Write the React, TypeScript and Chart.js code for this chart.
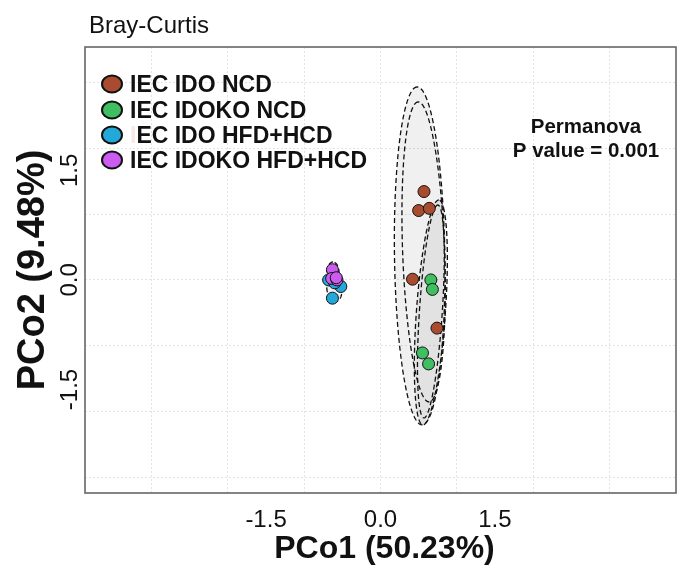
import React, { useEffect, useRef } from "react";
import { Chart, registerables } from "chart.js";

Chart.register(...registerables);

const FONT = '"Liberation Sans", Arial, Helvetica, sans-serif';

// ---- Data ----
const groupNames = ["IEC IDO NCD", "IEC IDOKO NCD", "IEC IDO HFD+HCD", "IEC IDOKO HFD+HCD"];
const groupColors = ["#A94B2F", "#3FBF62", "#22A9DA", "#CC5BEF"];

const idoNcdX = [0.57, 0.50, 0.64, 0.42, 0.74];
const idoNcdY = [1.21, 0.95, 0.98, 0.01, -0.66];
const idokoNcdX = [0.66, 0.68, 0.55, 0.63];
const idokoNcdY = [0.0, -0.13, -1.0, -1.15];
const idoHfdX = [-0.68, -0.52, -0.63, -0.60];
const idoHfdY = [0.0, -0.09, -0.25, -0.04];
const idokoHfdX = [-0.63, -0.64, -0.57, -0.58];
const idokoHfdY = [0.14, 0.02, 0.0, 0.03];

// confidence ellipses (data units)
const ellipseCx = [0.513, 0.565, 0.66, 0.66, -0.623, -0.604];
const ellipseCy = [0.329, 0.384, -0.445, -0.432, 0.096, -0.11];
const ellipseA = [2.315, 2.056, 1.544, 1.461, 0.15, 0.19];
const ellipseB = [0.33, 0.275, 0.19, 0.15, 0.08, 0.10];
const ellipseAngle = [90.8, 92.0, 86.1, 86.4, 90, 95];
const ellipseFilled = [true, false, true, false, true, true];

const xGridValues = [-3, -2, -1, 0, 1, 2, 3];
const yGridValues = [-2.7, -1.8, -0.9, 0, 0.9, 1.8, 2.7];
const xTickValues = [-1.5, 0, 1.5];
const xTickLabels = ["-1.5", "0.0", "1.5"];
const yTickValues = [-1.5, 0, 1.5];
const yTickLabels = ["-1.5", "0.0", "1.5"];

const titleText = "Bray-Curtis";
const xTitle = "PCo1 (50.23%)";
const yTitle = "PCo2 (9.48%)";
const statLines = ["Permanova", "P value = 0.001"];

export default function App() {
  const ref = useRef<HTMLCanvasElement>(null);

  useEffect(() => {
    const canvas = ref.current;
    if (!canvas) return;
    const groupX = [idoNcdX, idokoNcdX, idoHfdX, idokoHfdX];
    const groupY = [idoNcdY, idokoNcdY, idoHfdY, idokoHfdY];

    const datasets = groupNames.map((name, g) => ({
      label: name,
      data: groupX[g].map((x, i) => ({ x, y: groupY[g][i] })),
      backgroundColor: groupColors[g],
      borderColor: "#111",
      borderWidth: 1,
      pointRadius: 6,
      pointHoverRadius: 6,
      order: -g,
    }));

    const ellipsePlugin = {
      id: "ellipses",
      beforeDatasetsDraw(chart: any) {
        const ctx = chart.ctx;
        const xs = chart.scales.x;
        const ys = chart.scales.y;
        ctx.save();
        for (let e = 0; e < ellipseCx.length; e++) {
          const th = (ellipseAngle[e] * Math.PI) / 180;
          ctx.beginPath();
          const n = 120;
          for (let k = 0; k <= n; k++) {
            const t = (k / n) * Math.PI * 2;
            const u = ellipseA[e] * Math.cos(t);
            const v = ellipseB[e] * Math.sin(t);
            const dx = ellipseCx[e] + u * Math.cos(th) - v * Math.sin(th);
            const dy = ellipseCy[e] + u * Math.sin(th) + v * Math.cos(th);
            const px = xs.getPixelForValue(dx);
            const py = ys.getPixelForValue(dy);
            if (k === 0) ctx.moveTo(px, py);
            else ctx.lineTo(px, py);
          }
          ctx.closePath();
          if (ellipseFilled[e]) {
            ctx.fillStyle = "rgba(0,0,0,0.06)";
            ctx.fill();
          }
          ctx.setLineDash([5, 3]);
          ctx.lineWidth = 1.3;
          ctx.strokeStyle = "#111";
          ctx.stroke();
        }
        ctx.restore();
      },
    };

    const decorPlugin = {
      id: "decor",
      afterDraw(chart: any) {
        const ctx = chart.ctx;
        const a = chart.chartArea;
        const xs = chart.scales.x;
        const ys = chart.scales.y;
        ctx.save();
        // box
        ctx.setLineDash([]);
        ctx.strokeStyle = "#666";
        ctx.lineWidth = 1.6;
        ctx.strokeRect(a.left, a.top, a.right - a.left, a.bottom - a.top);

        ctx.fillStyle = "#111";
        // x tick labels
        ctx.font = `24px ${FONT}`;
        ctx.textAlign = "center";
        ctx.textBaseline = "alphabetic";
        xTickValues.forEach((v, i) => {
          ctx.fillText(xTickLabels[i], xs.getPixelForValue(v), 527);
        });
        // y tick labels (rotated)
        yTickValues.forEach((v, i) => {
          ctx.save();
          ctx.translate(77, ys.getPixelForValue(v));
          ctx.rotate(-Math.PI / 2);
          ctx.fillText(yTickLabels[i], 0, 0);
          ctx.restore();
        });
        // axis titles
        ctx.font = `bold 32px ${FONT}`;
        ctx.fillText(xTitle, (a.left + a.right) / 2 + 4, 558);
        ctx.save();
        ctx.font = `bold 38px ${FONT}`;
        ctx.translate(44, (a.top + a.bottom) / 2);
        ctx.rotate(-Math.PI / 2);
        ctx.fillText(yTitle, 0, 0);
        ctx.restore();

        // title
        ctx.font = `24px ${FONT}`;
        ctx.textAlign = "left";
        ctx.fillText(titleText, 89, 33);

        // permanova
        ctx.font = `bold 20.5px ${FONT}`;
        ctx.textAlign = "center";
        ctx.fillText(statLines[0], 586, 133);
        ctx.fillText(statLines[1], 586, 157);

        // legend
        const rows = [92, 118, 143, 168];
        ctx.font = `bold 23px ${FONT}`;
        ctx.textAlign = "left";
        groupNames.forEach((name, g) => {
          const by = rows[g];
          ctx.beginPath();
          ctx.ellipse(112, by - 8, 10, 8.5, 0, 0, Math.PI * 2);
          ctx.fillStyle = groupColors[g];
          ctx.fill();
          ctx.lineWidth = 2;
          ctx.strokeStyle = "#111";
          ctx.stroke();
          ctx.fillStyle = "#111";
          if (g === 2) {
            ctx.fillStyle = "#f6ebe4";
            ctx.fillText(name.slice(0, 1), 130, by);
            const w = ctx.measureText(name.slice(0, 1)).width;
            ctx.fillStyle = "#111";
            ctx.fillText(name.slice(1), 130 + w, by);
          } else {
            ctx.fillText(name, 130, by);
          }
        });
        ctx.restore();
      },
    };

    const chart = new Chart(canvas, {
      type: "scatter",
      data: { datasets } as any,
      options: {
        animation: false,
        responsive: false,
        events: [],
        layout: { padding: { left: 85, top: 47, right: 8, bottom: 83 } },
        plugins: {
          legend: { display: false },
          tooltip: { enabled: false },
          title: { display: false },
        },
        scales: {
          x: {
            type: "linear",
            min: -3.873,
            max: 3.873,
            afterBuildTicks: (s: any) => {
              s.ticks = xGridValues.map((v) => ({ value: v }));
            },
            ticks: { display: false },
            grid: { color: "#e3e3e3", lineWidth: 1, drawTicks: false },
            border: { display: false, dash: [2, 2] },
          },
          y: {
            type: "linear",
            min: -2.918,
            max: 3.19,
            afterBuildTicks: (s: any) => {
              s.ticks = yGridValues.map((v) => ({ value: v }));
            },
            ticks: { display: false },
            grid: { color: "#e3e3e3", lineWidth: 1, drawTicks: false },
            border: { display: false, dash: [2, 2] },
          },
        },
      } as any,
      plugins: [ellipsePlugin, decorPlugin],
    });
    return () => chart.destroy();
  }, []);

  return (
    <div style={{ position: "absolute", left: 0, top: 0, width: 684, height: 576, background: "#fff" }}>
      <canvas ref={ref} width={684} height={576} style={{ display: "block" }} />
    </div>
  );
}
